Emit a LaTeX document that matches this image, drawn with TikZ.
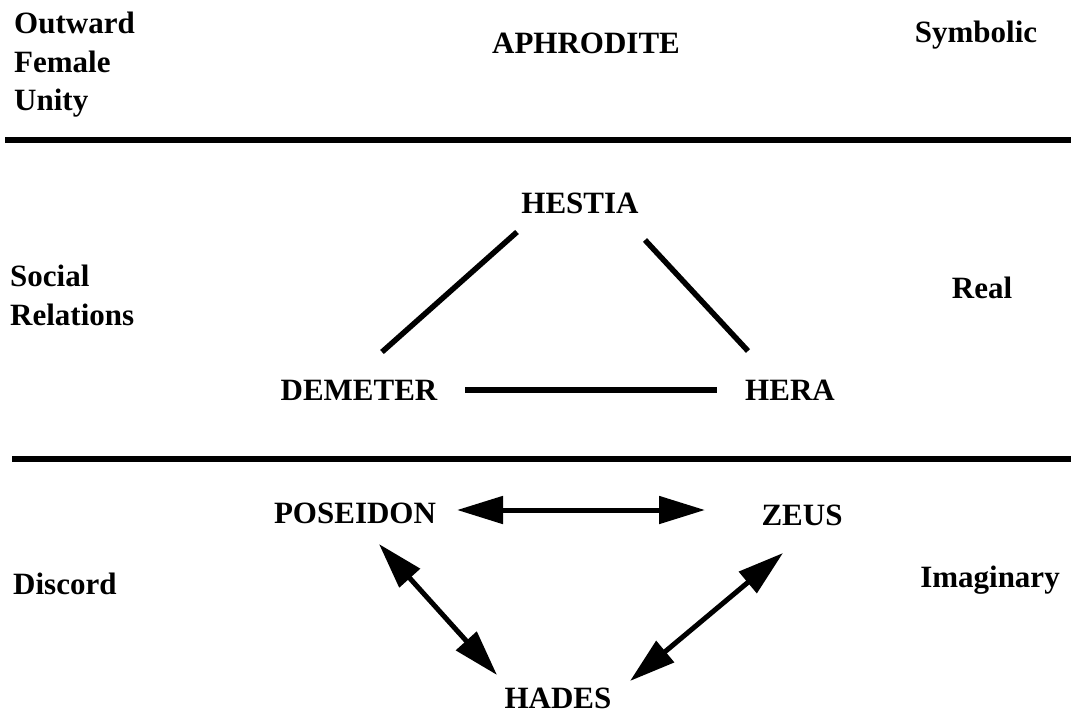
\documentclass[tikz,border=0pt]{standalone}
\usepackage{fontspec}
\setmainfont{Liberation Serif}
\usepackage{tikz}
\usetikzlibrary{arrows.meta}

\begin{document}
\begin{tikzpicture}[x=1pt, y=-1pt, every node/.style={font=\bfseries\fontsize{31}{38.5}\selectfont, inner sep=0pt}, god/.style={anchor=base}, side/.style={align=left, anchor=north west}, rel/.style={line width=5.5pt}, arr/.style={line width=5pt, {Triangle[length=46pt,width=27pt]}-{Triangle[length=46pt,width=27pt]}}, bar/.style={line width=6pt}]
\useasboundingbox (0,0) rectangle (1071,713);
% top band
\node[side] (unity) at (14,12) {Outward\\Female\\Unity};
\node[god] (aphrodite) at (586,53) {APHRODITE};
\node[god] (symbolic) at (976,42) {Symbolic};
\draw[bar] (5,140) -- (1071,140);
% middle band
\node[god] (hestia) at (580,213) {HESTIA};
\node[side] (social) at (10,265) {Social\\Relations};
\node[god] (real) at (982,298) {Real};
\node[god] (demeter) at (359,400) {DEMETER};
\node[god] (hera) at (790,400) {HERA};
\draw[rel] ([shift={(-63,19)}]hestia.base) -- ([shift={(23,-48)}]demeter.base);
\draw[rel] ([shift={(65,27)}]hestia.base) -- ([shift={(-42,-49)}]hera.base);
\draw[rel] ([shift={(106,-10)}]demeter.base) -- ([shift={(-73,-10)}]hera.base);
\draw[bar] (12,459) -- (1071,459);
% bottom band
\node[god] (poseidon) at (355,523) {POSEIDON};
\node[god] (zeus) at (802,525) {ZEUS};
\node[god, anchor=base west] (discord) at (13,594) {Discord};
\node[god] (imaginary) at (990,587) {Imaginary};
\node[god] (hades) at (558,708) {HADES};
\draw[arr] ([shift={(102,-13)}]poseidon.base) -- ([shift={(-97,-15)}]zeus.base);
\draw[arr] ([shift={(24,21)}]poseidon.base) -- ([shift={(-61,-33)}]hades.base);
\draw[arr] ([shift={(-19,28)}]zeus.base) -- ([shift={(72,-27)}]hades.base);
\end{tikzpicture}
\end{document}
